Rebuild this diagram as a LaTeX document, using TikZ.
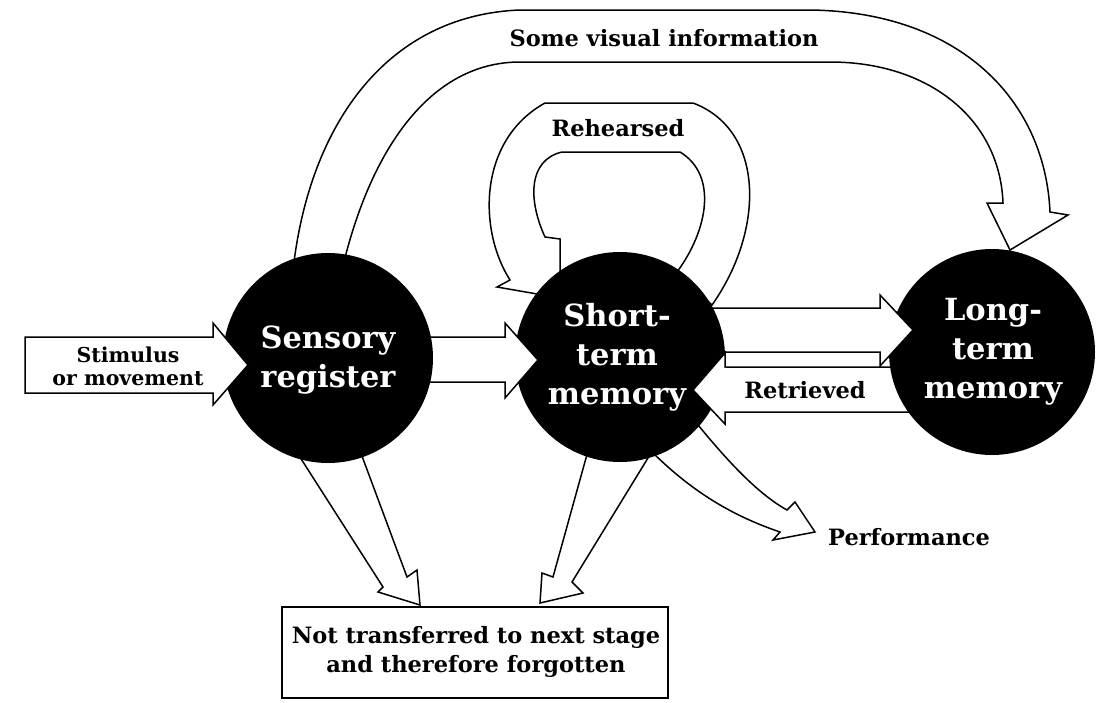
\documentclass[tikz,border=0pt]{standalone}
\usepackage{fontspec}
\setmainfont{DejaVu Serif}
\begin{document}
\begin{tikzpicture}[x=1pt,y=-1pt,
  hollow/.style={fill=white,draw=black,line width=1.5pt,line join=miter},
  blob/.style={circle,fill=black,inner sep=0pt,minimum size=#1},
  bigtxt/.style={text=white,font=\bfseries\fontsize{30.5}{39}\selectfont,align=center},
  smalltxt/.style={font=\bfseries\fontsize{22.5}{29}\selectfont,align=center,inner sep=0pt},
  stimtxt/.style={font=\bfseries\fontsize{20.5}{23}\selectfont,align=center,inner sep=0pt}]
\useasboundingbox[fill=white] (0,0) rectangle (1109,702);
% arrow shapes
\newcommand\visualArrow[1]{\path[#1] (293,270) .. controls (310,120) and (390,15) .. (520,10) -- (810,10) .. controls (960,12) and (1045,100) .. (1050,212) -- (1068,215) -- (1010,250) -- (987,203) -- (1003,203) .. controls (1000,120) and (930,62) .. (830,62) -- (520,62) .. controls (430,62) and (370,150) .. (342,270) -- cycle;}
\newcommand\rehearseArrow[1]{\path[#1] (712,305) .. controls (765,230) and (765,130) .. (693,103) -- (545,103) .. controls (478,140) and (478,230) .. (510,280) -- (497,287) -- (560,298) -- (560,239) -- (545,237) .. controls (528,200) and (528,160) .. (562,152) -- (680,152) .. controls (718,175) and (708,230) .. (677,272) -- cycle;}
\newcommand\stimArrow[1]{\path[#1] (25,337) -- (213,337) -- (213,323) -- (248,365) -- (213,405) -- (213,393) -- (25,393) -- cycle;}
\newcommand\srstmArrow[1]{\path[#1] (400,337) -- (505,337) -- (505,323) -- (538,360) -- (505,398) -- (505,382) -- (400,382) -- cycle;}
\newcommand\stmltmArrow[1]{\path[#1] (690,308) -- (880,308) -- (880,295) -- (913,330) -- (880,366) -- (880,352) -- (690,352) -- cycle;}
\newcommand\retrArrow[1]{\path[#1] (920,367) -- (725,367) -- (725,353) -- (693,390) -- (725,424) -- (725,412) -- (920,412) -- cycle;}
\newcommand\perfArrow[1]{\path[#1] (690,415) .. controls (730,465) and (760,495) .. (787,510) -- (795,502) -- (815,532) -- (773,540) -- (780,532) .. controls (730,515) and (690,490) .. (650,450) -- cycle;}
\newcommand\forgetA[1]{\path[#1] (289,440) -- (383,587) -- (378,592) -- (420,605) -- (417,570) -- (407,577) -- (356,440) -- cycle;}
\newcommand\forgetB[1]{\path[#1] (591,440) -- (553,577) -- (542,573) -- (540,603) -- (583,593) -- (572,582) -- (659,440) -- cycle;}
% draw arrows under circles
\visualArrow{hollow}
\rehearseArrow{hollow}
\stimArrow{hollow}
\srstmArrow{hollow}
\stmltmArrow{hollow}
\retrArrow{hollow}
\perfArrow{hollow}
\forgetA{hollow}
\forgetB{hollow}
% circles
\node[blob=210pt] (sr) at (328,358) {};
\node[blob=210pt] (stm) at (620,357) {};
\node[blob=206pt] (ltm) at (992,352) {};
% heads drawn over target circles
\begin{scope}
\clip (328,358) circle[radius=106pt];
\stimArrow{hollow}
\end{scope}
\begin{scope}
\clip (620,357) circle[radius=106pt];
\srstmArrow{hollow}
\retrArrow{hollow}
\end{scope}
\begin{scope}
\clip (992,352) circle[radius=104pt];
\stmltmArrow{hollow}
\visualArrow{hollow}
\end{scope}
% circle texts
\node[bigtxt] (srt) at (328,360) {Sensory\\register};
\node[bigtxt] (stmt) at (617,357) {Short-\\term\\memory};
\node[bigtxt] (ltmt) at (993,352) {Long-\\term\\memory};
% labels
\node[smalltxt] (vis) at (664,38) {Some visual information};
\node[smalltxt] (reh) at (618,128) {Rehearsed};
\node[stimtxt] (stim) at (128,366) {Stimulus\\or movement};
\node[smalltxt] (ret) at (805,390) {Retrieved};
\node[smalltxt,anchor=west] (perf) at (828,537) {Performance};
\node[draw,line width=1.5pt,minimum width=386pt,minimum height=91pt,inner sep=0pt] (fg) at (475,652.5) {};
\node[smalltxt] (fgt) at (476,652) {Not transferred to next stage\\and therefore forgotten};
\end{tikzpicture}
\end{document}
